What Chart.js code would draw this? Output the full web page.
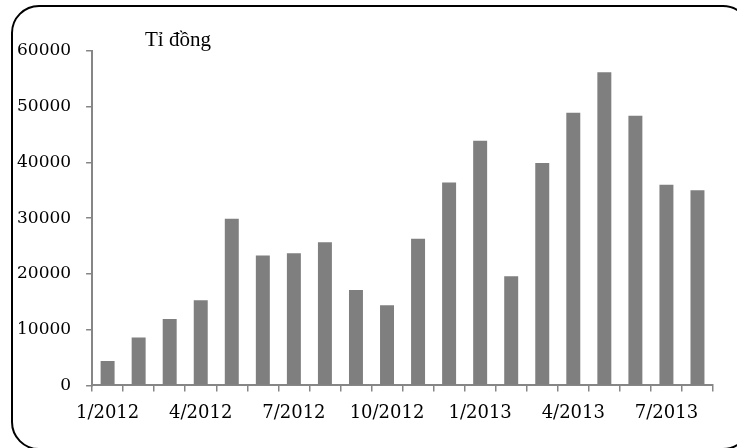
<!DOCTYPE html>
<html>
<head>
<meta charset="utf-8">
<script src="https://cdn.jsdelivr.net/npm/chart.js@4"></script>
<style>
  html, body { margin: 0; padding: 0; background: #fff; }
  #wrap { position: relative; width: 737px; height: 448px; overflow: hidden; }
  #frame {
    position: absolute; left: 11px; top: 5px; width: 736px; height: 441px;
    border: 2px solid #000; border-radius: 28px; box-sizing: content-box;
  }
  #unit {
    position: absolute; left: 145px; top: 27px;
    font-family: "Liberation Serif", serif; font-size: 21px; color: #000;
  }
  canvas { position: absolute; left: 0; top: 0; }
</style>
</head>
<body>
<div id="wrap">
  <div id="frame"></div>
  <canvas id="c" width="737" height="448"></canvas>
  <div id="unit">Tỉ đồng</div>
</div>
<script>
// Monthly values, Jan 2012 – Aug 2013 (tỉ đồng)
const months = ['1/2012','2/2012','3/2012','4/2012','5/2012','6/2012','7/2012','8/2012','9/2012','10/2012','11/2012','12/2012',
                '1/2013','2/2013','3/2013','4/2013','5/2013','6/2013','7/2013','8/2013'];
const values = [4400, 8600, 11900, 15300, 29900, 23300, 23700, 25700, 17100, 14400, 26300, 36400,
                43900, 19600, 39900, 48900, 56200, 48400, 36000, 35000];
const yTicks = [0, 10000, 20000, 30000, 40000, 50000, 60000];

const axisGray = '#868686';

new Chart(document.getElementById('c'), {
  type: 'bar',
  data: {
    labels: months,
    datasets: [{
      data: values,
      backgroundColor: '#7f7f7f',
      borderWidth: 0,
      barPercentage: 0.45,
      categoryPercentage: 1.0
    }]
  },
  options: {
    responsive: false,
    animation: false,
    layout: { padding: { left: 2, right: 24, top: 51, bottom: 13 } },
    plugins: { legend: { display: false }, tooltip: { enabled: false } },
    scales: {
      x: {
        offset: true,
        grid: { offset: true, drawOnChartArea: false, drawTicks: true, tickLength: 6, color: axisGray, lineWidth: 1.5 },
        border: { color: axisGray, width: 2 },
        ticks: {
          autoSkip: false, maxRotation: 0, padding: 11,
          color: '#000',
          font: { family: 'DejaVu Serif', size: 18 },
          callback: function (v, i) { return i % 3 === 0 ? months[i] : ''; }
        }
      },
      y: {
        min: 0, max: 60000,
        afterBuildTicks: function (axis) { axis.ticks = yTicks.map(v => ({ value: v })); },
        grid: { drawOnChartArea: false, drawTicks: true, tickLength: 6, color: axisGray, lineWidth: 1.5 },
        border: { color: axisGray, width: 2 },
        ticks: {
          padding: 15,
          color: '#000',
          font: { family: 'DejaVu Serif', size: 17 },
          callback: function (v) { return String(v); }
        }
      }
    }
  }
});
</script>
</body>
</html>
